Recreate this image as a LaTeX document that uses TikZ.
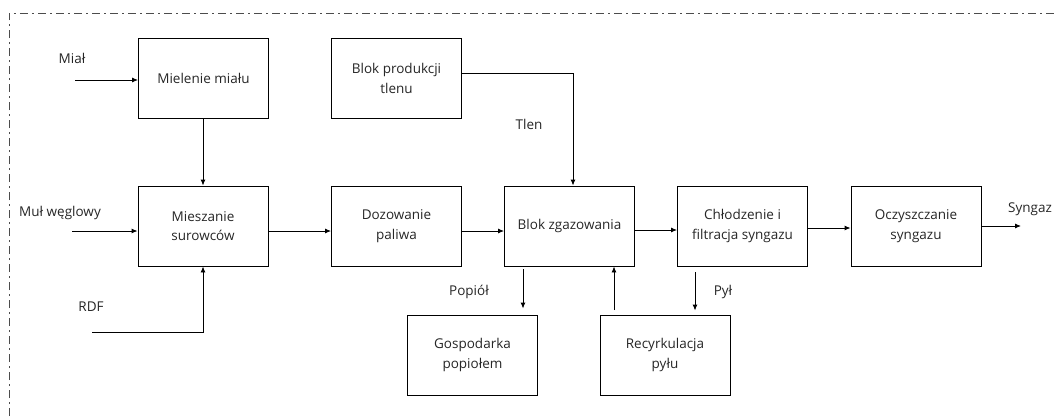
\documentclass[tikz,border=0pt]{standalone}
\usepackage{fontspec}
\setmainfont{Open Sans}
\usetikzlibrary{arrows.meta}
\begin{document}
\begin{tikzpicture}[x=1pt,y=-1pt,
  box/.style={draw=black,line width=0.9pt,minimum width=130pt,minimum height=80pt,inner sep=0pt,align=center,font=\fontsize{13.5}{19.5}\selectfont,text=black!85},
  lbl/.style={font=\fontsize{13.5}{19.5}\selectfont,text=black!85,inner sep=0pt},
  arr/.style={line width=0.9pt,-{Latex[length=6pt,width=5pt]}},
  frame/.style={draw=black!70,line width=1pt,dash pattern=on 8pt off 4pt on 2pt off 4pt}]
\useasboundingbox (0,0) rectangle (1054,416);
\draw[frame] (9,416) -- (9,13) -- (1054,13);

\node[box] (miel) at (203.5,78.5) {Mielenie miału};
\node[box] (tlen) at (396.5,78.5) {Blok produkcji\\tlenu};
\node[box] (miesz) at (203,226) {Mieszanie\\surowców};
\node[box] (doz) at (396.5,226) {Dozowanie\\paliwa};
\node[box] (zgaz) at (569.5,226) {Blok zgazowania};
\node[box] (chl) at (742.5,226) {Chłodzenie i\\filtracja syngazu};
\node[box] (ocz) at (916,226) {Oczyszczanie\\syngazu};
\node[box] (gosp) at (472.5,355) {Gospodarka\\popiołem};
\node[box] (rec) at (665,355) {Recyrkulacja\\pyłu};

\node[lbl] (lmial) at (72,58) {Miał};
\node[lbl] (lmul) at (60,213) {Muł węglowy};
\node[lbl] (lrdf) at (91,307) {RDF};
\node[lbl] (ltlen) at (529,124) {Tlen};
\node[lbl] (lpop) at (469,292) {Popiół};
\node[lbl] (lpyl) at (723,292) {Pył};
\node[lbl] (lsyn) at (1030,209) {Syngaz};

\coordinate (mialin) at (75,80);
\coordinate (mulin) at (72,231);
\coordinate (rdfin) at (92,332);
\coordinate (synout) at (1021,226);
\coordinate (pop1) at (523,269);
\coordinate (rec1) at (614,310);
\coordinate (pyl1) at (695,272);

\draw[arr] (mialin) -- (mialin -| miel.west);
\draw[arr] (miesz.north |- miel.south) -- (miesz.north);
\draw[arr] (mulin) -- (mulin -| miesz.west);
\draw[arr] (rdfin) -| (miesz.south);
\draw[arr] ([yshift=5.5]tlen.east) -| ([xshift=3.5]zgaz.north);
\draw[arr] ([yshift=-5]miesz.east) -- ([yshift=-5]doz.west);
\draw[arr] ([yshift=-5]doz.west -| doz.east) -- ([yshift=-5]zgaz.west);
\draw[arr] ([yshift=-4]zgaz.east) -- ([yshift=-4]chl.west);
\draw[arr] ([yshift=-2]chl.east) -- ([yshift=-2]ocz.west);
\draw[arr] (ocz.east) -- (synout);
\draw[arr,shorten >=6pt] (pop1) -- (pop1 |- gosp.north);
\draw[arr] (rec1) -- (rec1 |- zgaz.south);
\draw[arr,shorten >=4pt] (pyl1) -- (pyl1 |- rec.north);
\end{tikzpicture}
\end{document}
